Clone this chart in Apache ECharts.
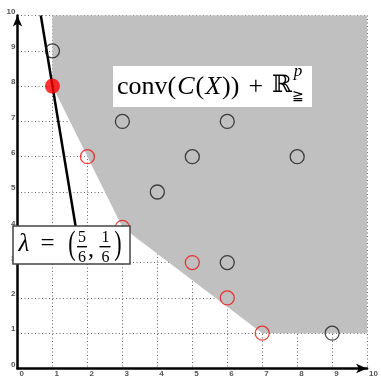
<!DOCTYPE html>
<html>
<head>
<meta charset="utf-8">
<script src="https://cdn.jsdelivr.net/npm/echarts@6/dist/echarts.min.js"></script>
<style>
  html, body { margin: 0; padding: 0; background: #fff; }
  #chart { width: 381px; height: 378px; }
</style>
</head>
<body>
<div id="chart"></div>
<script>
// Tick values along both axes
const ticks = [0, 1, 2, 3, 4, 5, 6, 7, 8, 9, 10];

// Outcome points that are dominated (black rings)
const dominatedPoints = [[1, 9], [3, 7], [6, 7], [5, 6], [8, 6], [4, 5], [6, 3], [9, 1]];
// Outcome points on the lower-left boundary (red rings)
const boundaryPoints = [[2, 6], [3, 4], [5, 3], [6, 2], [7, 1]];
// Point optimal for the weighted sum
const optimalPoint = [[1, 8]];
// Vertices of conv(C(X)) + R^p_>= clipped to the visible window
const hullRegion = [[1, 10], [1, 8], [3, 4], [7, 1], [10, 1], [10, 10]];
// Level line of the weighted sum through the optimum
const lambdaLine = [[0.667, 10], [1.667, 4]];

const serif = '"Liberation Serif", "DejaVu Serif", serif';

const chart = echarts.init(document.getElementById('chart'), null, { renderer: 'canvas' });

const axisCommon = {
  type: 'value',
  min: 0,
  max: 10,
  interval: 1,
  axisLine: {
    show: true,
    onZero: false,
    symbol: ['none', 'arrow'],
    symbolSize: [7, 11],
    lineStyle: { color: '#000', width: 2.5 }
  },
  axisTick: { show: false },
  splitLine: {
    show: true,
    lineStyle: { color: '#666', width: 1, type: [1, 2.5] }
  }
};

function txt(id, x, y, text, font, extra) {
  return Object.assign({
    type: 'text',
    id: id,
    z: 60,
    style: { x: x, y: y, text: text, font: font, fill: '#000', align: 'center', verticalAlign: 'middle' }
  }, extra || {});
}

// Lay out a formula as a row of text runs, measuring each run so they abut.
const measureCtx = document.createElement('canvas').getContext('2d');
function textRow(prefix, x0, y, runs) {
  const out = [];
  let x = x0;
  runs.forEach((r, i) => {
    x += r.gap || 0;
    measureCtx.font = r.font;
    const w = measureCtx.measureText(r.text).width;
    out.push({
      type: 'text', id: prefix + i, z: 60,
      style: { x: x, y: y + (r.dy || 0), text: r.text, font: r.font, fill: '#000', align: 'left', verticalAlign: 'middle' }
    });
    x += w;
  });
  return out;
}

const fs = 26;
const convRow = textRow('conv', 117, 87, [
  { text: 'conv(', font: fs + 'px ' + serif },
  { text: 'C', font: 'italic ' + fs + 'px ' + serif, gap: 1 },
  { text: '(', font: fs + 'px ' + serif, gap: 1 },
  { text: 'X', font: 'italic ' + fs + 'px ' + serif, gap: 1 },
  { text: '))', font: fs + 'px ' + serif, gap: 1 },
  { text: '+', font: fs + 'px ' + serif, gap: 9 },
  { text: 'ℝ', font: '24px "DejaVu Serif", serif', gap: 9, dy: -1 }
]);
const rEnd = convRow[convRow.length - 1];
measureCtx.font = rEnd.style.font;
const scriptX = rEnd.style.x + measureCtx.measureText('ℝ').width + 1;

const option = {
  animation: false,
  backgroundColor: '#fff',
  grid: { left: 17.5, top: 15.5, width: 353, height: 353, containLabel: false },
  xAxis: Object.assign({}, axisCommon, {
    axisLabel: {
      margin: 1,
      color: '#555',
      fontSize: 8,
      fontWeight: 'bold',
      fontFamily: 'Liberation Sans',
      align: 'left',
      padding: [0, 0, 0, 2],
      formatter: v => ticks.includes(v) ? String(v) : ''
    }
  }),
  yAxis: Object.assign({}, axisCommon, {
    axisLabel: {
      margin: 2,
      color: '#555',
      fontSize: 8,
      fontWeight: 'bold',
      fontFamily: 'Liberation Sans',
      verticalAlign: 'bottom',
      formatter: v => ticks.includes(v) ? String(v) : ''
    }
  }),
  series: [
    {
      // shaded region conv(C(X)) + R^p
      type: 'custom',
      z: 1,
      silent: true,
      renderItem: function (params, api) {
        if (params.dataIndex !== 0) return null;
        const pts = hullRegion.map(p => api.coord(p));
        return {
          type: 'polygon',
          shape: { points: pts },
          style: { fill: '#c0c0c0', stroke: null }
        };
      },
      data: [hullRegion[0]]
    },
    {
      // weighted-sum level line
      type: 'line',
      z: 3,
      data: lambdaLine,
      symbol: 'none',
      lineStyle: { color: '#000', width: 2.5 }
    },
    {
      type: 'scatter',
      z: 20,
      data: dominatedPoints,
      symbol: 'circle',
      symbolSize: 14,
      itemStyle: { color: 'rgba(0,0,0,0)', borderColor: '#1a1a1a', borderWidth: 1.3 }
    },
    {
      type: 'scatter',
      z: 20,
      data: boundaryPoints,
      symbol: 'circle',
      symbolSize: 14,
      itemStyle: { color: 'rgba(0,0,0,0)', borderColor: '#ee1111', borderWidth: 1.3 }
    },
    {
      type: 'scatter',
      z: 20,
      data: optimalPoint,
      symbol: 'circle',
      symbolSize: 15,
      itemStyle: { color: '#ff0000' }
    }
  ],
  graphic: [
    // label of the shaded region
    { type: 'rect', id: 'convBox', z: 55, shape: { x: 113, y: 66, width: 199, height: 41 }, style: { fill: '#fff' } }
  ].concat(convRow, [
    txt('convP', scriptX + 5, 72, 'p', 'italic 17px ' + serif),
    txt('convGe', scriptX + 5, 96, '≧', '14px "DejaVu Serif", serif'),

    // label of the weight vector
    { type: 'rect', id: 'lamBox', z: 55, shape: { x: 13, y: 226, width: 117, height: 38 }, style: { fill: '#fff', stroke: '#444', lineWidth: 1.5 } },
    txt('lam', 24, 244, 'λ', 'italic 25px ' + serif),
    txt('eq', 47.5, 244, '=', '25px ' + serif),
    txt('lpar', 0, 0, '(', '22px ' + serif, { x: 72, y: 245, scaleY: 1.55 }),
    txt('n1', 82, 238, '5', '16px ' + serif),
    { type: 'rect', id: 'bar1', z: 60, shape: { x: 77, y: 246, width: 10, height: 1.4 }, style: { fill: '#000' } },
    txt('d1', 82, 257.5, '6', '16px ' + serif),
    txt('comma', 91, 250, ',', '24px ' + serif),
    txt('n2', 105.5, 238, '1', '16px ' + serif),
    { type: 'rect', id: 'bar2', z: 60, shape: { x: 99.5, y: 246, width: 11, height: 1.4 }, style: { fill: '#000' } },
    txt('d2', 105.5, 257.5, '6', '16px ' + serif),
    txt('rpar', 0, 0, ')', '22px ' + serif, { x: 118, y: 245, scaleY: 1.55 })
  ])
};

chart.setOption(option);
</script>
</body>
</html>
